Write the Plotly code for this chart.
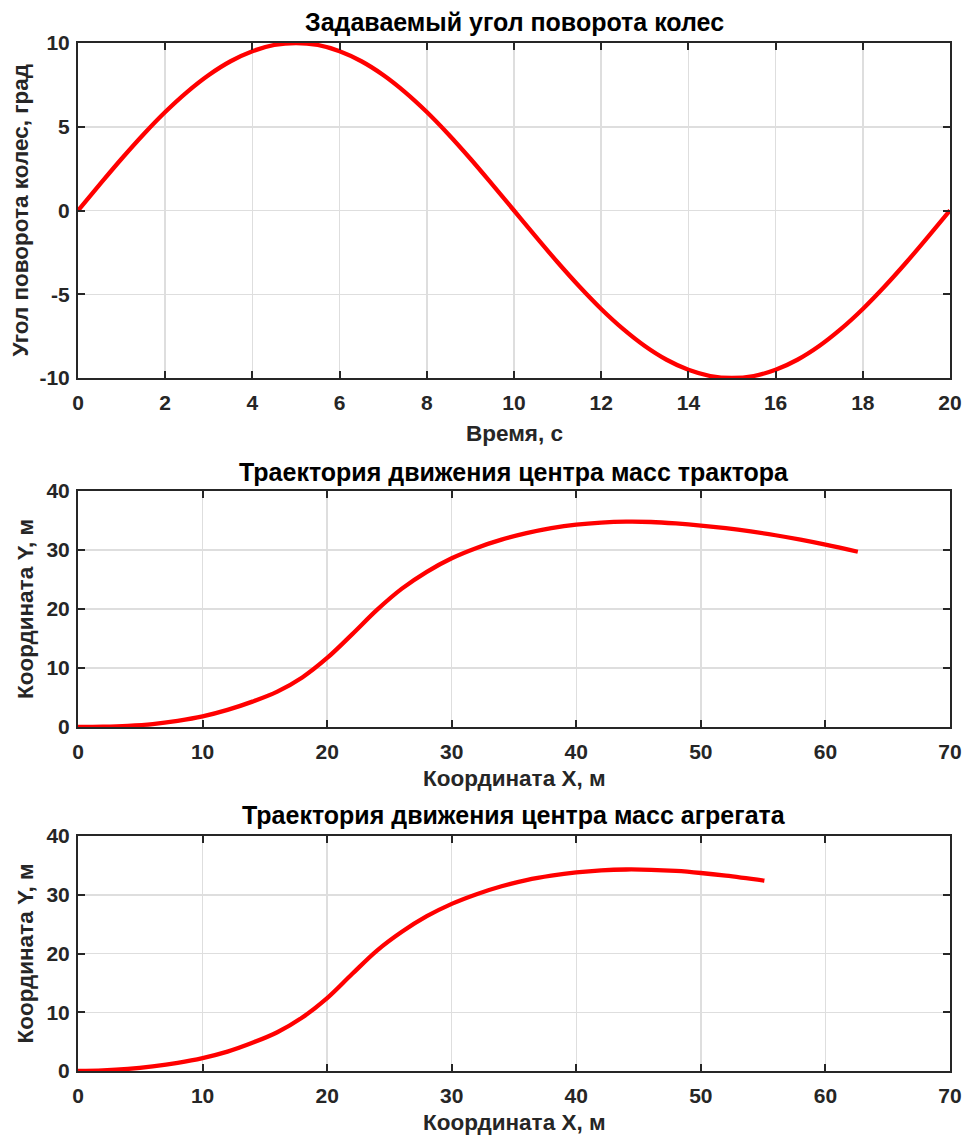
import plotly.graph_objects as go

# ---- data ----
time_s = [0, 0.5, 1, 1.5, 2, 2.5, 3, 3.5, 4, 4.5, 5, 5.5, 6, 6.5, 7, 7.5, 8, 8.5, 9, 9.5, 10,
          10.5, 11, 11.5, 12, 12.5, 13, 13.5, 14, 14.5, 15, 15.5, 16, 16.5, 17, 17.5, 18, 18.5,
          19, 19.5, 20]
angle_deg = [0, 1.56, 3.09, 4.54, 5.88, 7.07, 8.09, 8.91, 9.51, 9.88, 10, 9.88, 9.51, 8.91,
             8.09, 7.07, 5.88, 4.54, 3.09, 1.56, 0, -1.56, -3.09, -4.54, -5.88, -7.07, -8.09,
             -8.91, -9.51, -9.88, -10, -9.88, -9.51, -8.91, -8.09, -7.07, -5.88, -4.54, -3.09,
             -1.56, 0]

tractor_x = [0, 2, 4, 6, 8, 10, 12, 14, 16, 18, 20, 22, 24, 26, 28, 30, 32, 34, 36, 38, 40,
             42, 44, 46, 48, 50, 52, 54, 56, 58, 60, 62.6]
tractor_y = [0, 0.05, 0.2, 0.5, 1.05, 1.8, 2.9, 4.3, 6.0, 8.4, 11.7, 15.7, 19.85, 23.45,
             26.3, 28.6, 30.35, 31.75, 32.85, 33.7, 34.3, 34.65, 34.8, 34.75, 34.5, 34.15,
             33.7, 33.15, 32.5, 31.75, 30.9, 29.7]

unit_x = [0, 2, 4, 6, 8, 10, 12, 14, 16, 18, 20, 22, 24, 26, 28, 30, 32, 34, 36, 38, 40, 42,
          44, 46, 48, 50, 52, 55.1]
unit_y = [0, 0.1, 0.35, 0.8, 1.4, 2.2, 3.3, 4.8, 6.6, 9.1, 12.4, 16.5, 20.5, 23.7, 26.35,
          28.45, 30.1, 31.45, 32.5, 33.25, 33.8, 34.15, 34.3, 34.25, 34.05, 33.7, 33.25, 32.4]

titles = ["Задаваемый угол поворота колес",
          "Траектория движения центра масс трактора",
          "Траектория движения центра масс агрегата"]
x_titles = ["Время, с", "Координата X, м", "Координата X, м"]
y_titles = ["Угол поворота колес, град", "Координата Y, м", "Координата Y, м"]

W, H = 963, 1135
X0, X1 = 78, 950
panels = [(43, 378), (491, 727), (836, 1071)]  # pixel top/bottom of plot areas
title_y = [22, 472, 815]
xtitle_y = [433, 778, 1122]
ytitle_x = [20, 25, 25]

FONT = "Arial, Liberation Sans, sans-serif"
AX = "#262626"
GRID = "#dedede"

fig = go.Figure()

series = [(time_s, angle_deg), (tractor_x, tractor_y), (unit_x, unit_y)]
for i, (xs, ys) in enumerate(series):
    sfx = "" if i == 0 else str(i + 1)
    fig.add_trace(go.Scatter(x=xs, y=ys, mode="lines",
                             line=dict(color="#ff0000", width=4.3, shape="spline", smoothing=1.0),
                             xaxis="x" + sfx, yaxis="y" + sfx, showlegend=False,
                             cliponaxis=False))

def fx(p):
    return p / W

def fy(p):
    return 1 - p / H

common = dict(showline=True, linecolor=AX, linewidth=2, mirror="ticks",
              ticks="inside", ticklen=7, tickwidth=2, tickcolor=AX,
              showgrid=True, gridcolor=GRID, gridwidth=1.5, zeroline=False,
              tickfont=dict(family=FONT, size=21, color=AX, weight="bold"),
              fixedrange=True, automargin=False)

layout = dict(width=W, height=H, margin=dict(l=0, r=0, t=0, b=0, autoexpand=False),
              paper_bgcolor="white", plot_bgcolor="white", hovermode=False)

annotations = []
cx = fx((X0 + X1) / 2)
for i, (top, bot) in enumerate(panels):
    sfx = "" if i == 0 else str(i + 1)
    if i == 0:
        xr, xt = [0, 20], list(range(0, 21, 2))
        yr, yt = [-10, 10], [-10, -5, 0, 5, 10]
    else:
        xr, xt = [0, 70], list(range(0, 71, 10))
        yr, yt = [0, 40], [0, 10, 20, 30, 40]
    layout["xaxis" + sfx] = dict(common, domain=[fx(X0), fx(X1)], range=xr, tickvals=xt,
                                 ticktext=[str(v) for v in xt], ticklabelstandoff=5,
                                 anchor="y" + sfx)
    layout["yaxis" + sfx] = dict(common, domain=[fy(bot), fy(top)], range=yr, tickvals=yt,
                                 ticktext=[str(v) for v in yt], ticklabelstandoff=2,
                                 anchor="x" + sfx)
    annotations.append(dict(text=titles[i], x=cx, y=fy(title_y[i]), xref="paper", yref="paper",
                            showarrow=False, xanchor="center", yanchor="middle",
                            font=dict(family=FONT, size=25, color="black", weight="bold")))
    annotations.append(dict(text=x_titles[i], x=cx, y=fy(xtitle_y[i]), xref="paper",
                            yref="paper", showarrow=False, xanchor="center", yanchor="middle",
                            font=dict(family=FONT, size=22.5, color=AX, weight="bold")))
    annotations.append(dict(text=y_titles[i], x=fx(ytitle_x[i]),
                            y=fy((top + bot) / 2), xref="paper", yref="paper",
                            showarrow=False, xanchor="center", yanchor="middle", textangle=-90,
                            font=dict(family=FONT, size=22.5, color=AX, weight="bold")))

layout["annotations"] = annotations
fig.update_layout(**layout)
fig.write_html(
    "out.html",
    config={"displayModeBar": False, "staticPlot": True},
    post_script=("document.documentElement.style.margin='0';"
                 "document.body.style.margin='0';"
                 "document.body.style.padding='0';"
                 "document.documentElement.style.overflow='hidden';"
                 "document.body.style.overflow='hidden';"),
)
